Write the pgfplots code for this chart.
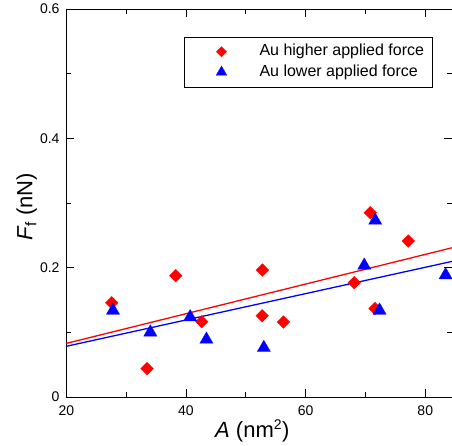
\documentclass[border=0pt]{standalone}
\usepackage{pgfplots}
\pgfplotsset{compat=1.18}
\usepackage{fontspec}
\setmainfont{Liberation Sans}
\setsansfont{Liberation Sans}

\begin{document}
\begin{tikzpicture}
\begin{axis}[
  scale only axis, width=386pt, height=388pt,
  xmin=20, xmax=84.52, ymin=0, ymax=0.6,
  xtick={20,40,60,80}, ytick={0,0.2,0.4,0.6},
  minor x tick num=1, minor y tick num=1,
  tick align=inside, major tick length=8pt, minor tick length=5pt,
  axis line style={line width=0.9pt}, tick style={line width=0.8pt, black},
  /pgf/number format/assume math mode=true,
  tick label style={font=\fontsize{14}{16}\selectfont},
  xticklabel style={yshift=-5pt},
  yticklabel style={xshift=-3.3pt},
  xlabel={\textit{A} (nm\textsuperscript{\fontsize{14}{14}\selectfont 2})},
  ylabel={\textit{F}\textsubscript{f} (nN)},
  label style={font=\fontsize{22}{24}\selectfont},
  xlabel style={at={(axis description cs:0.482,-0.1044)}, anchor=base},
  ylabel style={at={(axis description cs:-0.0881,0.49)}, anchor=base},
  legend cell align=left,
  legend image code/.code={\path[draw=none, fill=none] (0pt,-5pt) rectangle (67pt,5pt); \draw[#1, every mark/.append style={scale=0.82}] plot coordinates {(29pt,0pt)};},
  legend style={at={(axis description cs:0.3057,0.9278)}, anchor=north west,
    inner xsep=8pt, inner ysep=7pt, row sep=5.5pt,
    font=\fontsize{16}{18}\selectfont,
    nodes={inner sep=0pt, text height=11.5pt, text depth=3.5pt}},
]
% fitted lines
\addplot[red, line width=1.3pt, forget plot] coordinates {(20,0.0829) (84.52,0.2309)};
\addplot[blue, line width=1.3pt, forget plot] coordinates {(20,0.0784) (84.52,0.2098)};

% Au higher applied force
\addplot[red, only marks, mark=square*, mark size=4.5pt, mark options={rotate=45, fill=red, line width=0.2pt}]
coordinates {
(27.59,0.1458) (33.5,0.0438) (38.3,0.1876) (42.65,0.1164) (52.79,0.1964)
(52.74,0.1257) (56.3,0.116) (68.13,0.1767) (70.8,0.285) (71.6,0.137) (77.16,0.2412)
};
\addlegendentry{Au higher applied force}

% Au lower applied force
\addplot[blue, only marks, mark=triangle*, mark size=7.7pt, mark options={fill=blue, line width=0.2pt}]
coordinates {
(27.8,0.1338) (34.05,0.100) (40.7,0.1235) (43.42,0.0889) (53.02,0.0761)
(69.8,0.2033) (71.64,0.2729) (72.36,0.1338) (83.4,0.1885)
};
\addlegendentry{Au lower applied force}
\end{axis}
\pgfresetboundingbox
\path (-66.3pt,-48pt) rectangle (385.7pt,397pt);
\end{tikzpicture}
\end{document}
